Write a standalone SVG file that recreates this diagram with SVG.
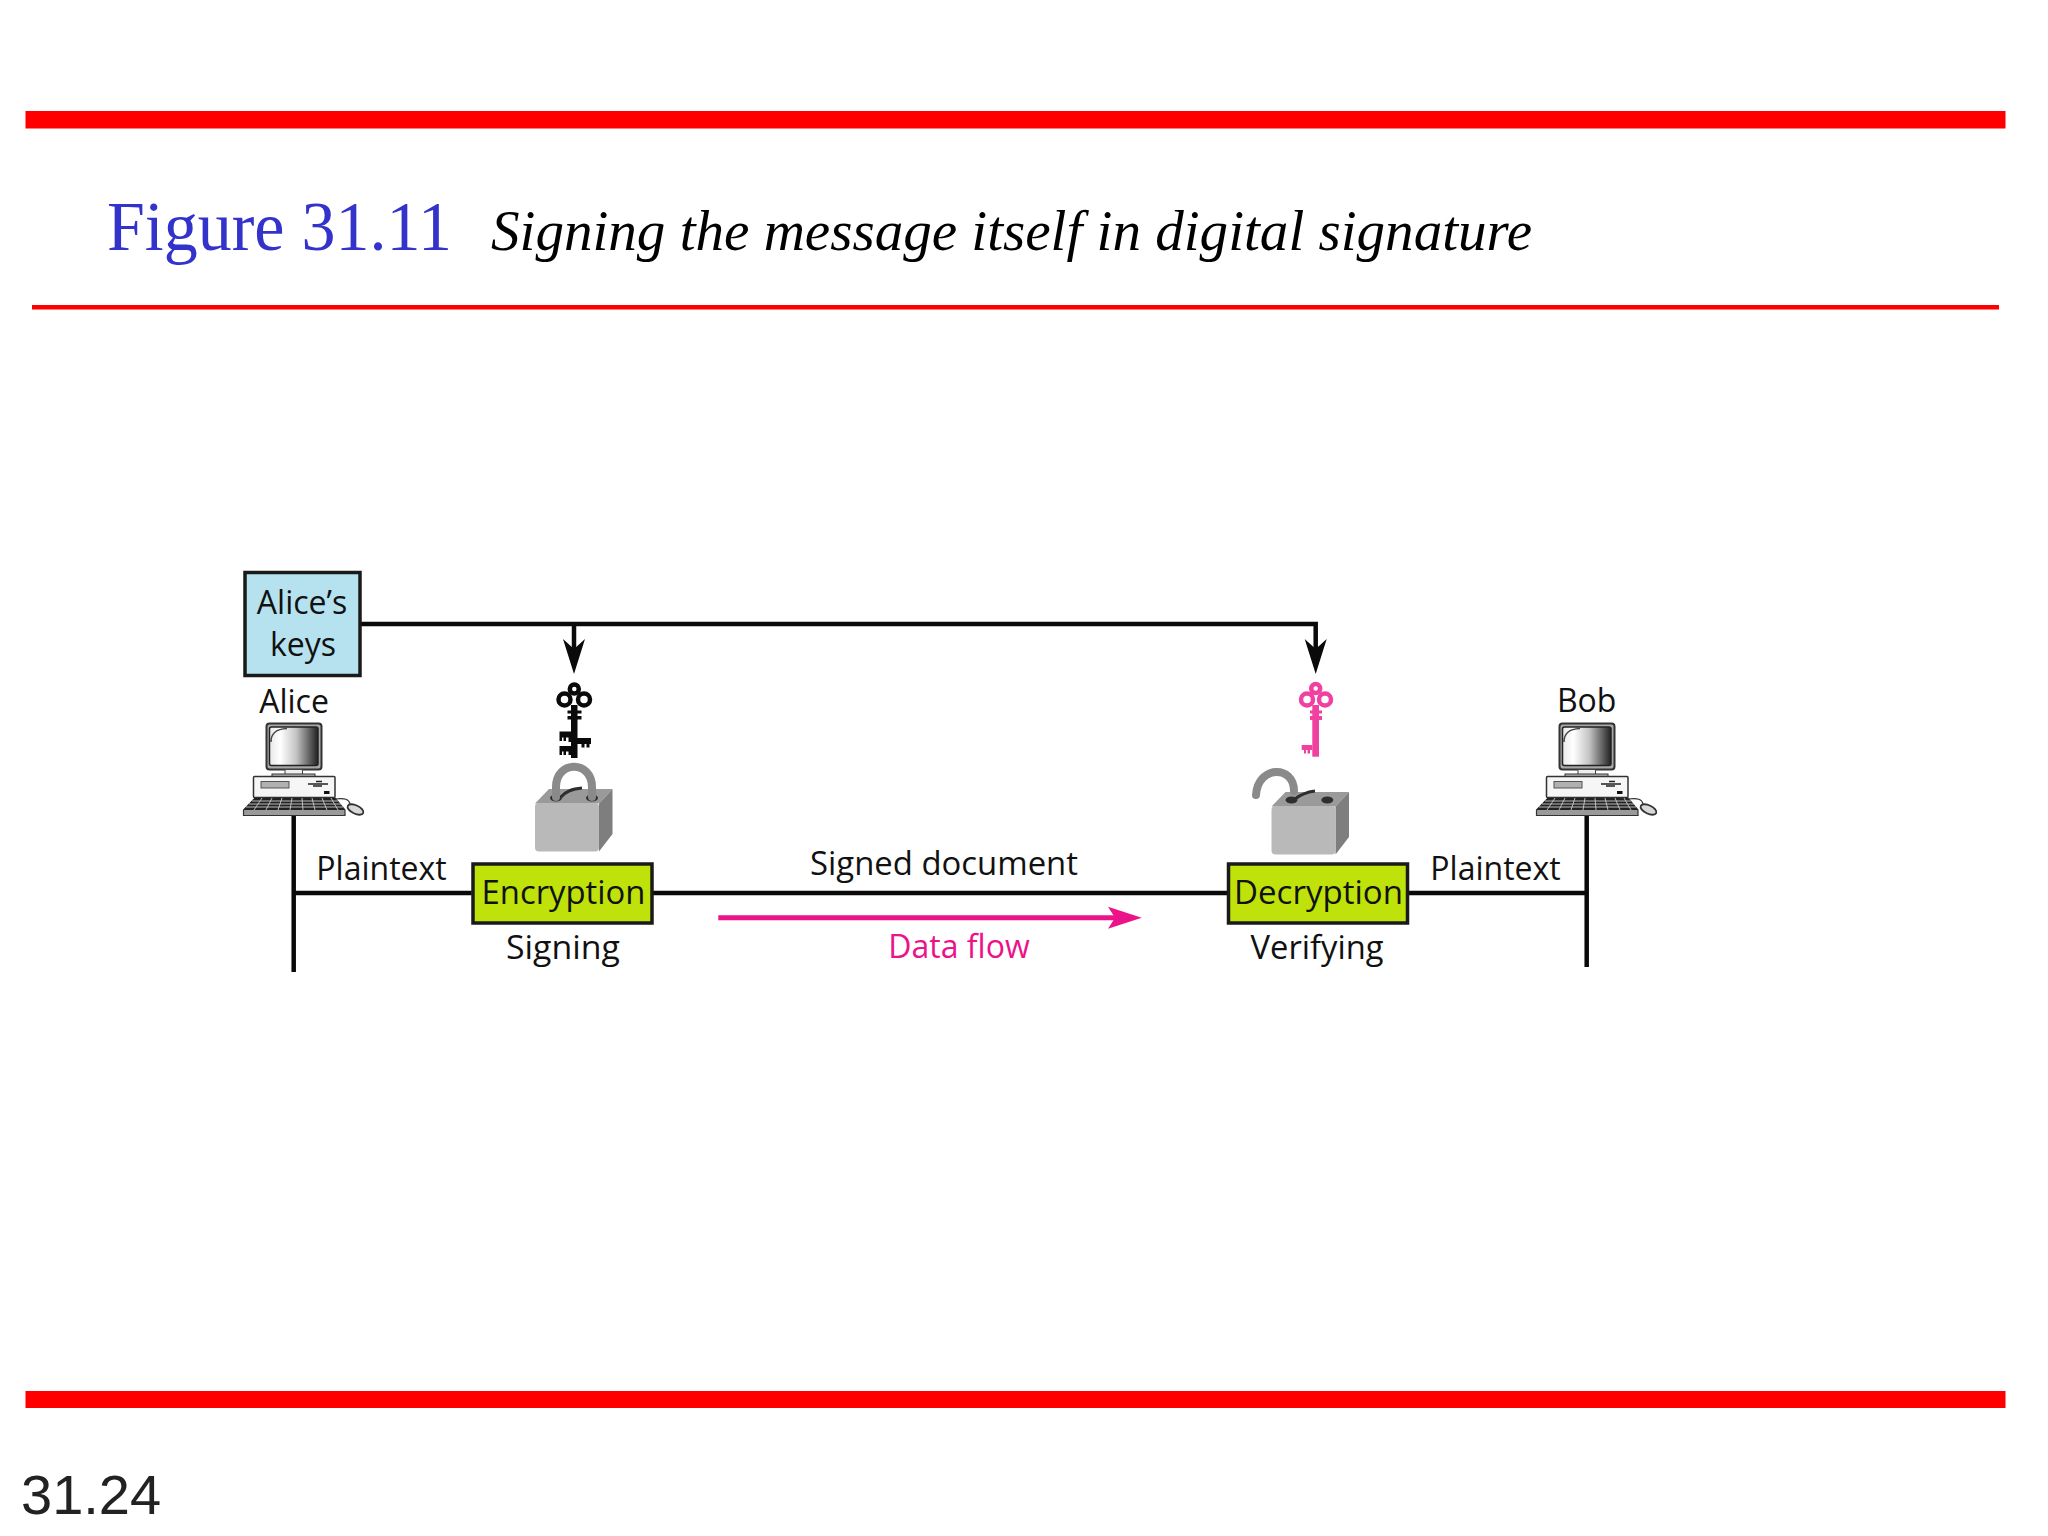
<svg xmlns="http://www.w3.org/2000/svg" xmlns:xlink="http://www.w3.org/1999/xlink" width="2048" height="1536" viewBox="0 0 2048 1536">
<style>
.lbl{font-family:"Open Sans","Liberation Sans",sans-serif;font-size:32px;fill:#111;text-anchor:middle}
.pink{fill:#EC1289}
.wire{fill:none;stroke:#0a0a0a;stroke-width:4.5}
.box{stroke:#1a1a1a;stroke-width:3.5}
.front{fill:#b9b9b9}.top{fill:#9a9a9a}.side{fill:#7e7e7e}
.shackle{fill:none;stroke:#8a8a8a;stroke-width:8;stroke-linecap:round}
.hole{fill:#2e2e2e}
.bar{fill:#ff0000}
</style>
<defs>
<marker id="headBlack" markerUnits="userSpaceOnUse" markerWidth="40" markerHeight="30" viewBox="0 -15 40 30" refX="10" refY="0" orient="auto"><path d="M0,-11 L35,0 L0,11 L10,0Z" fill="#0a0a0a"/></marker>
<marker id="headPink" markerUnits="userSpaceOnUse" markerWidth="40" markerHeight="30" viewBox="0 -15 40 30" refX="7" refY="0" orient="auto"><path d="M0,-11 L33.7,0 L0,11 L7,0Z" fill="#EC1289"/></marker>
<linearGradient id="screen" x1="0" x2="1" y1="0" y2="0"><stop offset="0" stop-color="#e8e8e8"/><stop offset="0.22" stop-color="#ffffff"/><stop offset="0.55" stop-color="#c4c4c4"/><stop offset="1" stop-color="#222222"/></linearGradient>
<g id="computer">
<rect x="266.5" y="723.5" width="55" height="46" rx="3" fill="#a8a8a8" stroke="#333" stroke-width="2"/>
<rect x="269.5" y="727" width="48.5" height="38.5" rx="2" fill="url(#screen)" stroke="#222" stroke-width="1.5"/>
<path d="M271,742 C271,733 276,729 287,728.5" fill="none" stroke="#444" stroke-width="1.5"/>
<rect x="285" y="769.5" width="17.5" height="5" fill="#eee" stroke="#444" stroke-width="1"/>
<rect x="272" y="774" width="43" height="3" fill="#bbb" stroke="#333" stroke-width="1"/>
<rect x="253.5" y="776.5" width="81.5" height="21" rx="1" fill="#f6f6f6" stroke="#333" stroke-width="1.5"/>
<rect x="261" y="781.5" width="28" height="6.5" fill="#b0b0b0" stroke="#555" stroke-width="1"/>
<path d="M308,784 H328 M316,781.5 H322 M313,786 H322" stroke="#222" stroke-width="1.5" fill="none"/>
<rect x="324" y="791" width="5.5" height="3" fill="#111"/>
<path d="M255,798 H335 L345,810 V815.5 H243.5 V810 Z" fill="#9a9a9a" stroke="#333" stroke-width="1.2"/>
<path d="M255,798 H335 L345,810 H243.5 Z" fill="#222"/>
<path d="M252,801 H338 M249,804 H341 M246,807 H343 M262,798 L254,810 M272,798 L266,810 M282,798 L278,810 M292,798 L290,810 M302,798 L303,810 M312,798 L315,810 M322,798 L327,810 M331,798 L338,810" stroke="#ccc" stroke-width="0.9" fill="none"/>
<path d="M335,799 C345,798 349,799 350,804" fill="none" stroke="#333" stroke-width="1.2"/>
<ellipse cx="355.5" cy="809.5" rx="8.5" ry="4.2" transform="rotate(25 355.5 809.5)" fill="#d8d8d8" stroke="#333" stroke-width="1.8"/>
</g>
<g id="lockBody">
<path class="top" d="M0,14.5 L14,0 H77.5 L64,14.5Z"/>
<path class="side" d="M64,14.5 L77.5,0 V45 L64,62.5Z"/>
<rect class="front" x="0" y="14" width="64" height="48.5" rx="4"/>
</g>
</defs>
<g id="frame">
<rect class="bar" x="25.5" y="111" width="1980" height="17.5"/>
<rect class="bar" x="32" y="305" width="1967" height="4.5"/>
<rect class="bar" x="25.5" y="1391" width="1980" height="17"/>
</g>
<g id="title">
<text x="107" y="250" font-family="'Liberation Serif',serif" font-size="69" fill="#3333CC" textLength="345" lengthAdjust="spacingAndGlyphs">Figure 31.11</text>
<text x="491" y="250" font-family="'Liberation Serif',serif" font-size="58" font-style="italic" fill="#000" textLength="1041" lengthAdjust="spacingAndGlyphs">Signing the message itself in digital signature</text>
</g>
<g id="connectors">
<path class="wire" d="M361,624 H1315.7 V649" marker-end="url(#headBlack)"/>
<path class="wire" d="M574,624 V649" marker-end="url(#headBlack)"/>
<path class="wire" d="M293.7,816 V972"/>
<path class="wire" d="M293.7,893 H471.7"/>
<path class="wire" d="M653,893 H1227"/>
<path class="wire" d="M1409,893 H1586.7"/>
<path class="wire" d="M1586.7,816 V967"/>
<path fill="none" stroke="#EC1289" stroke-width="5" d="M718.3,917.7 H1115" marker-end="url(#headPink)"/>
</g>
<g id="alices-keys">
<rect class="box" x="245" y="572.5" width="115" height="103" fill="#B5E2EE"/>
<text class="lbl" x="302" y="614">Alice’s</text>
<text class="lbl" x="303" y="656">keys</text>
</g>
<g id="alice">
<text class="lbl" x="294" y="712.5">Alice</text>
<use xlink:href="#computer" href="#computer"/>
</g>
<g id="bob">
<text class="lbl" x="1586.7" y="711.5">Bob</text>
<use xlink:href="#computer" href="#computer" transform="translate(1293,0)"/>
</g>
<g id="key-private" fill="#0a0a0a">
<g fill="none" stroke="#0a0a0a" stroke-width="4.5"><circle cx="574.3" cy="689" r="4.5"/><circle cx="564.5" cy="699.5" r="6"/><circle cx="584" cy="699.5" r="6"/></g>
<rect x="571" y="705" width="6.5" height="53"/>
<rect x="567.5" y="710.5" width="14" height="3"/><rect x="567.5" y="716" width="14" height="3.5"/>
<path d="M559.5,731.5 H572 V742 H568.5 V737.5 H566 V741 H563.5 V737.5 H562 V741 H559.5Z"/>
<path d="M559.5,746 H572 V755 H568.5 V751.5 H566 V755 H563.5 V751.5 H562 V755 H559.5Z"/>
<path d="M577,738 H591 V744 H589.5 V747.5 H586.5 V744 H584.5 V747.5 H581.5 V744 H577Z"/>
</g>
<g id="lock-closed">
<use xlink:href="#lockBody" href="#lockBody" transform="translate(535,789)"/>
<ellipse class="hole" cx="556" cy="798" rx="6" ry="3.5"/><ellipse class="hole" cx="592" cy="798" rx="6" ry="3.5"/>
<path d="M561,797 C566,791 572,789 582,788" fill="none" stroke="#2e2e2e" stroke-width="3"/>
<path class="shackle" d="M556,797 V787 C556,760 592,760 592,787 V797"/>
</g>
<g id="encryption">
<rect class="box" x="473" y="864" width="179" height="59" fill="#BFE20A"/>
<text class="lbl" x="563.5" y="904" textLength="164" lengthAdjust="spacingAndGlyphs">Encryption</text>
<text class="lbl" x="563" y="959" textLength="114" lengthAdjust="spacingAndGlyphs">Signing</text>
</g>
<g id="key-public" fill="#F040A0">
<g fill="none" stroke="#F040A0" stroke-width="4.5"><circle cx="1315.7" cy="688.5" r="4.5"/><circle cx="1307" cy="699.5" r="6"/><circle cx="1325" cy="699.5" r="6"/></g>
<rect x="1312.3" y="705" width="6.7" height="51.7"/>
<rect x="1310" y="710.5" width="12" height="3"/><rect x="1310" y="716" width="12" height="4"/>
<path d="M1301.7,745 H1312.3 V750 H1310 V753.5 H1307.5 V750 H1306 V753.5 H1304 V750 H1301.7Z"/>
</g>
<g id="lock-open">
<use xlink:href="#lockBody" href="#lockBody" transform="translate(1271.5,792)"/>
<ellipse class="hole" cx="1291.5" cy="800" rx="6" ry="3.5"/><ellipse class="hole" cx="1327.3" cy="800" rx="6" ry="3.5"/>
<path d="M1295,799 C1301,794 1307,792 1315,791" fill="none" stroke="#2e2e2e" stroke-width="3"/>
<path class="shackle" d="M1256,795 C1258,765 1294,765 1294,791"/>
</g>
<g id="decryption">
<rect class="box" x="1228.5" y="864" width="179" height="59" fill="#BFE20A"/>
<text class="lbl" x="1318.5" y="904" textLength="169" lengthAdjust="spacingAndGlyphs">Decryption</text>
<text class="lbl" x="1317" y="959" textLength="133" lengthAdjust="spacingAndGlyphs">Verifying</text>
</g>
<g id="labels">
<text class="lbl" x="381.5" y="880">Plaintext</text>
<text class="lbl" x="1495.5" y="880">Plaintext</text>
<text class="lbl" x="944" y="875" textLength="268" lengthAdjust="spacingAndGlyphs">Signed document</text>
<text class="lbl pink" x="959" y="958">Data flow</text>
</g>
<text id="page" x="21" y="1514" font-family="'Liberation Sans',sans-serif" font-size="56" fill="#222">31.24</text>
</svg>
